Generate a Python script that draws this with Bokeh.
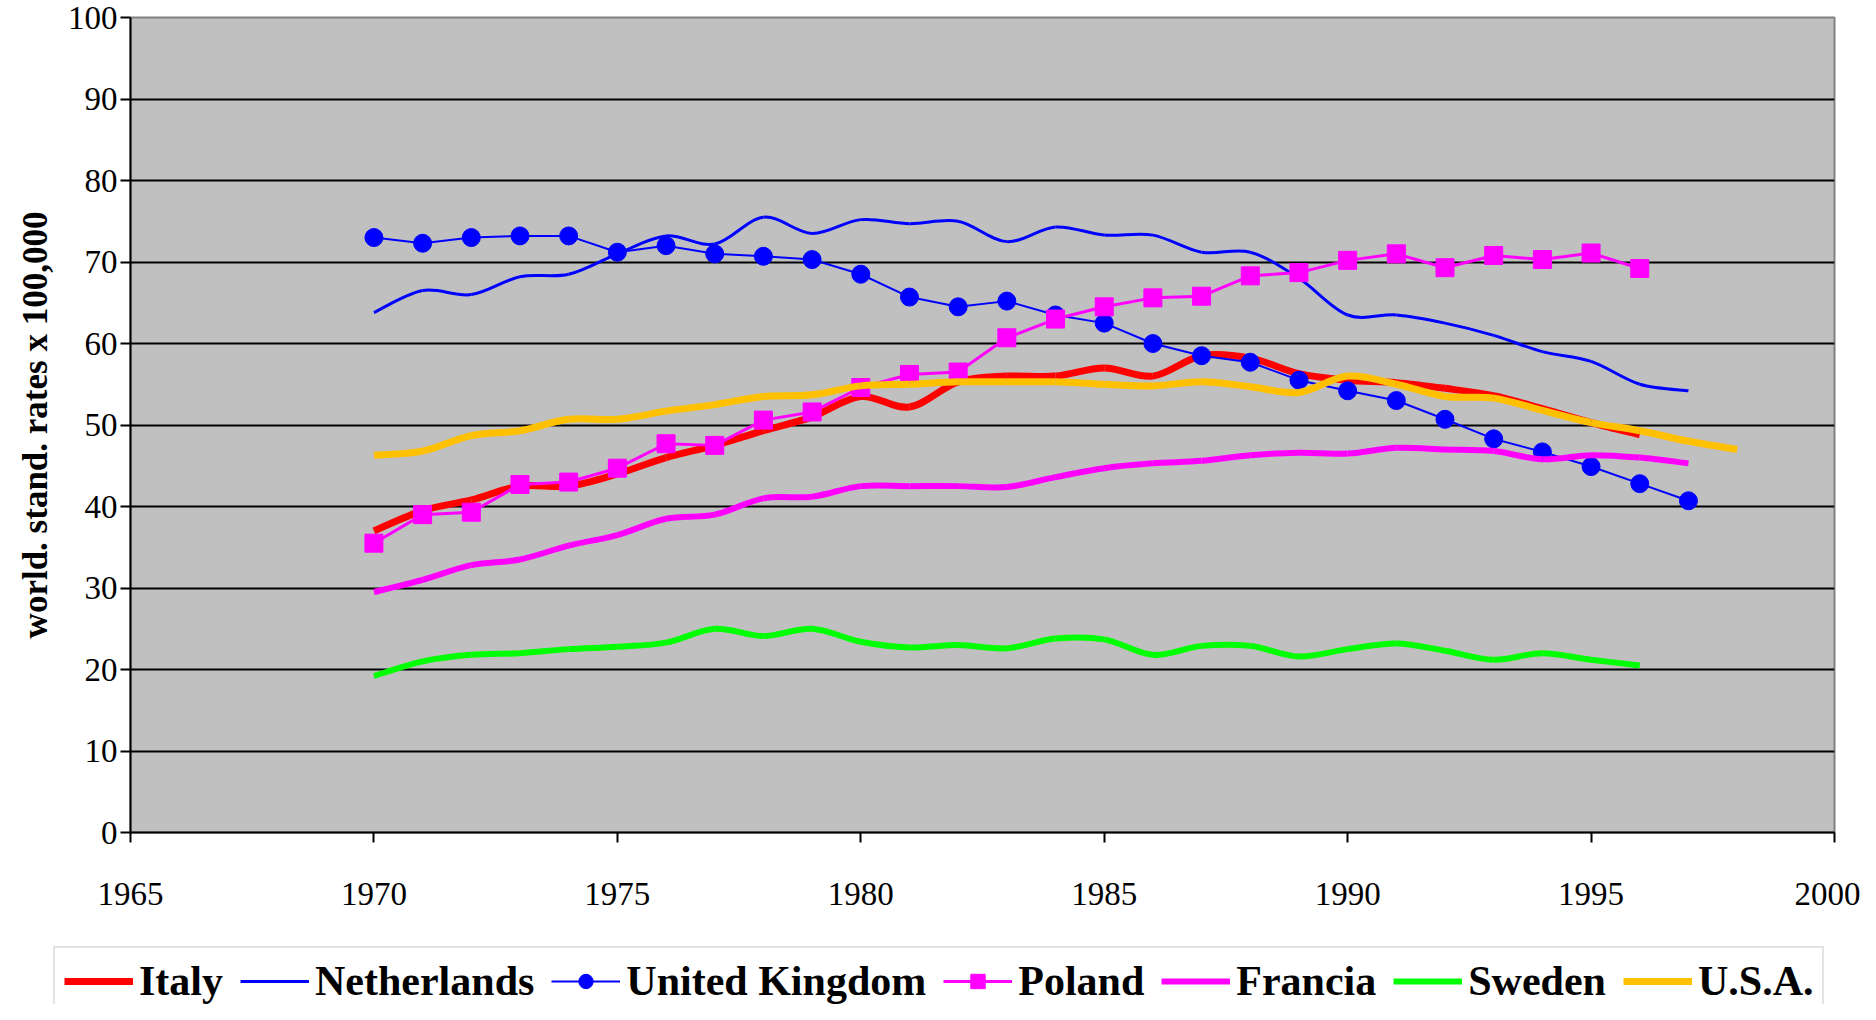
from bokeh.plotting import figure
from bokeh.models import Legend, LegendItem, FixedTicker, ColumnDataSource, Range1d
from bokeh.embed import file_html
from bokeh.resources import INLINE

# ---- data ----
years_uk = list(range(1970, 1998))
uk = [73.0, 72.3, 73.0, 73.2, 73.2, 71.2, 72.0, 71.0, 70.7, 70.3, 68.5, 65.7, 64.5, 65.2,
      63.5, 62.5, 60.0, 58.5, 57.7, 55.5, 54.2, 53.0, 50.7, 48.3, 46.7, 44.9, 42.8, 40.7]

years_pl = list(range(1970, 1997))
poland = [35.5, 39.0, 39.3, 42.7, 43.0, 44.7, 47.7, 47.5, 50.6, 51.6, 54.6, 56.2, 56.5, 60.7,
          63.0, 64.5, 65.6, 65.8, 68.3, 68.7, 70.2, 71.0, 69.3, 70.8, 70.3, 71.1, 69.2]

years_nl = list(range(1970, 1998))
netherlands = [63.8, 66.5, 66.0, 68.2, 68.5, 71.0, 73.2, 72.2, 75.5, 73.5, 75.2, 74.7, 75.0, 72.5,
               74.3, 73.3, 73.3, 71.2, 71.2, 68.0, 63.5, 63.5, 62.5, 61.0, 59.0, 57.8, 55.0, 54.2]

years_it = list(range(1970, 1997))
italy = [37.0, 39.5, 40.8, 42.5, 42.5, 44.0, 46.0, 47.5, 49.3, 51.0, 53.5, 52.2, 55.3, 56.0,
         56.0, 57.0, 56.0, 58.5, 58.2, 56.3, 55.5, 55.2, 54.5, 53.6, 52.0, 50.3, 48.8]

years_fr = list(range(1970, 1998))
francia = [29.5, 31.0, 32.8, 33.5, 35.2, 36.5, 38.5, 39.0, 41.0, 41.2, 42.5, 42.5, 42.5, 42.4,
           43.6, 44.7, 45.3, 45.6, 46.3, 46.6, 46.5, 47.2, 47.0, 46.8, 45.8, 46.3, 46.0, 45.3]

years_se = list(range(1970, 1997))
sweden = [19.2, 21.0, 21.8, 22.0, 22.5, 22.8, 23.3, 25.0, 24.1, 25.0, 23.4, 22.7, 23.0, 22.6,
          23.8, 23.7, 21.8, 22.9, 22.9, 21.6, 22.5, 23.2, 22.3, 21.2, 22.0, 21.2, 20.5]

years_us = list(range(1970, 1999))
usa = [46.3, 46.8, 48.7, 49.3, 50.7, 50.7, 51.7, 52.5, 53.5, 53.7, 54.8, 55.0, 55.3, 55.3,
       55.3, 55.0, 54.8, 55.3, 54.7, 54.0, 56.0, 55.0, 53.5, 53.3, 51.8, 50.3, 49.3, 48.0, 47.0]

x_ticks = [1965, 1970, 1975, 1980, 1985, 1990, 1995, 2000]
y_ticks = [0, 10, 20, 30, 40, 50, 60, 70, 80, 90, 100]

SERIES = [
    # name, years, values, colour, line width, marker
    ("Italy", years_it, italy, "#FF0000", 7, None),
    ("Netherlands", years_nl, netherlands, "#0000FF", 3, None),
    ("United Kingdom", years_uk, uk, "#0000FF", 2, "circle"),
    ("Poland", years_pl, poland, "#FF00FF", 3, "square"),
    ("Francia", years_fr, francia, "#FF00FF", 6, None),
    ("Sweden", years_se, sweden, "#00FF00", 6, None),
    ("U.S.A.", years_us, usa, "#FFC000", 7, None),
]

SERIF = "Liberation Serif"


def smooth_source(xs, ys, t=1.0 / 6.0):
    """Excel-style smoothed line: cubic Bezier segments between the data points."""
    n = len(xs)
    d = dict(x0=[], y0=[], x1=[], y1=[], cx0=[], cy0=[], cx1=[], cy1=[])
    for i in range(n - 1):
        ip = i - 1 if i > 0 else i
        inn = i + 2 if i + 2 < n else i + 1
        d["x0"].append(xs[i]); d["y0"].append(ys[i])
        d["x1"].append(xs[i + 1]); d["y1"].append(ys[i + 1])
        d["cx0"].append(xs[i] + (xs[i + 1] - xs[ip]) * t)
        d["cy0"].append(ys[i] + (ys[i + 1] - ys[ip]) * t)
        d["cx1"].append(xs[i + 1] - (xs[inn] - xs[i]) * t)
        d["cy1"].append(ys[i + 1] - (ys[inn] - ys[i]) * t)
    return ColumnDataSource(d)


BZ = dict(x0="x0", y0="y0", x1="x1", y1="y1", cx0="cx0", cy0="cy0", cx1="cx1", cy1="cy1")

# ================= main chart =================
p = figure(frame_width=1704, frame_height=815, x_range=(1965, 2000), y_range=(0, 100),
           output_backend="svg", toolbar_location=None,
           min_border_left=130, min_border_right=26, min_border_top=17, min_border_bottom=100,
           background_fill_color="#C0C0C0", border_fill_color="white")

p.outline_line_color = "#808080"
p.outline_line_width = 2

p.xgrid.visible = False
p.ygrid.ticker = FixedTicker(ticks=y_ticks[1:-1])
p.ygrid.grid_line_color = "black"
p.ygrid.grid_line_width = 2

p.xaxis.ticker = FixedTicker(ticks=x_ticks)
p.yaxis.ticker = FixedTicker(ticks=y_ticks)
for ax in (p.xaxis[0], p.yaxis[0]):
    ax.axis_line_color = "black"
    ax.axis_line_width = 2
    ax.major_tick_line_color = "black"
    ax.major_tick_line_width = 2
    ax.major_tick_in = 0
    ax.major_tick_out = 10
    ax.minor_tick_line_color = None
    ax.major_label_text_font = SERIF
    ax.major_label_text_font_size = "33px"
    ax.major_label_text_color = "black"
p.xaxis.major_label_standoff = 40
p.yaxis.major_label_standoff = 3
p.yaxis.axis_label = "world. stand. rates x 100,000"
p.yaxis.axis_label_text_font = SERIF
p.yaxis.axis_label_text_font_style = "bold"
p.yaxis.axis_label_text_font_size = "35px"
p.yaxis.axis_label_text_color = "black"
p.yaxis.axis_label_standoff = 10

for name, xs, ys, color, lw, marker in SERIES:
    if marker is None:
        p.bezier(**BZ, source=smooth_source(xs, ys), line_color=color, line_width=lw)
    else:
        p.line(xs, ys, line_color=color, line_width=lw)
        p.scatter(xs, ys, marker=marker, size=18, fill_color=color, line_color=color)

# ================= legend strip (separate root, below the chart) =================
# The series are re-used here only to feed the legend swatches; the strip's ranges
# keep them outside its (white) frame, so nothing but the legend is visible.
leg = figure(width=1860, height=72, output_backend="svg", toolbar_location=None,
             x_range=Range1d(0, 1), y_range=Range1d(0, 1),
             x_axis_location=None, y_axis_location=None,
             min_border_left=53, min_border_right=0, min_border_top=14, min_border_bottom=0,
             border_fill_color="white", background_fill_color="white")
leg.outline_line_color = None
leg.xgrid.visible = False
leg.ygrid.visible = False

items = []
for name, xs, ys, color, lw, marker in SERIES:
    rs = [leg.line(xs, ys, line_color=color, line_width=lw)]
    if marker is not None:
        rs.append(leg.scatter(xs, ys, marker=marker, size=18, fill_color=color, line_color=color))
    items.append(LegendItem(label=name, renderers=rs))

legend = Legend(items=items, orientation="horizontal", location="top_left")
legend.label_text_font = SERIF
legend.label_text_font_style = "bold"
legend.label_text_font_size = "42px"
legend.label_text_color = "black"
legend.glyph_width = 69
legend.glyph_height = 36
legend.label_standoff = 6
legend.spacing = 17
legend.padding = 9
legend.margin = 0
legend.border_line_color = "#C8C8C8"
legend.border_line_width = 2
legend.background_fill_color = "white"
legend.background_fill_alpha = 1.0
leg.add_layout(legend, "center")

open("out.html", "w").write(file_html([p, leg], INLINE))
